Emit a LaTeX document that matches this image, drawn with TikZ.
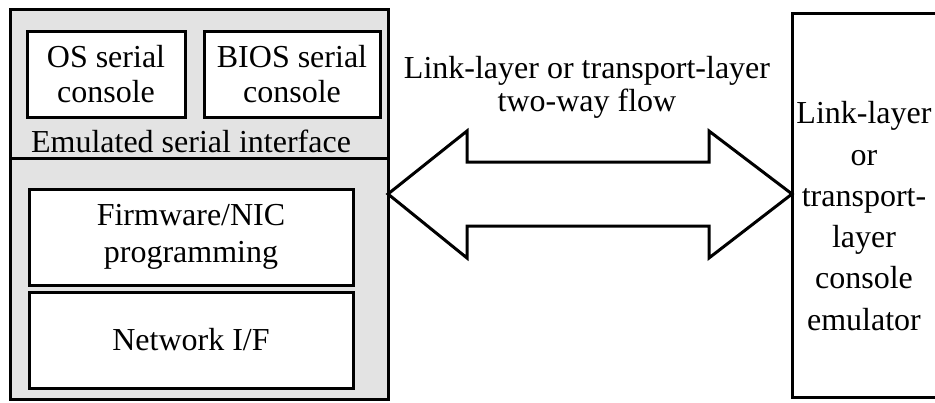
\documentclass[tikz,border=0pt]{standalone}
\usepackage{fontspec}
\setmainfont{Liberation Serif}
\definecolor{panelgray}{HTML}{E3E3E3}
\begin{document}
\begin{tikzpicture}[x=1pt,y=-1pt,
  every node/.style={inner sep=0pt, outer sep=0pt},
  frame/.style={draw, line width=3pt},
  panel/.style={frame, fill=panelgray},
  inbox/.style={frame, fill=white, align=center},
  bigtext/.style={font=\fontsize{32}{#1}\selectfont},
  bigtext/.default=35
]
\useasboundingbox (0,0) rectangle (935,402);
\clip (0,0) rectangle (935,402);

% host panel with its two layers
\node[panel, anchor=north west, minimum width=378pt, minimum height=390pt] (host) at (10,9) {};
\coordinate (div) at (10,158);
\draw[line width=3pt] (host.west |- div) -- (host.east |- div);

\node[inbox, bigtext=35, minimum width=158pt, minimum height=86pt] (os) at (106,74) {OS serial\\console};
\node[inbox, bigtext=35, minimum width=176pt, minimum height=86pt] (bios) at (292,74) {BIOS serial\\console};
\node[bigtext, anchor=base] (esi) at (191,152) {Emulated serial interface};

\node[inbox, bigtext=37, minimum width=324pt, minimum height=96pt] (fw) at (191,237) {Firmware/NIC\\programming};
\node[inbox, bigtext, minimum width=324pt, minimum height=96pt] (nif) at (191,340) {Network I/F};

% remote console emulator
\node[frame, fill=white, anchor=north west, minimum width=145pt, minimum height=384pt] (emu) at (792,13) {};
\node[bigtext=41.3, align=center] (emutext) at (864,216) {Link-layer\\or\\transport-\\layer\\console\\emulator};

% two-way block arrow between the panel and the emulator
\draw[frame, fill=white, line join=miter]
  (host.east |- 0,194) -- (467,131) -- (467,162) -- (709,162) -- (709,131)
  -- (emu.west |- 0,194) -- (709,258) -- (709,226) -- (467,226) -- (467,258) -- cycle;

\node[bigtext=33, align=center] (flowlbl) at (587,87) {Link-layer or transport-layer\\two-way flow};
\end{tikzpicture}
\end{document}
